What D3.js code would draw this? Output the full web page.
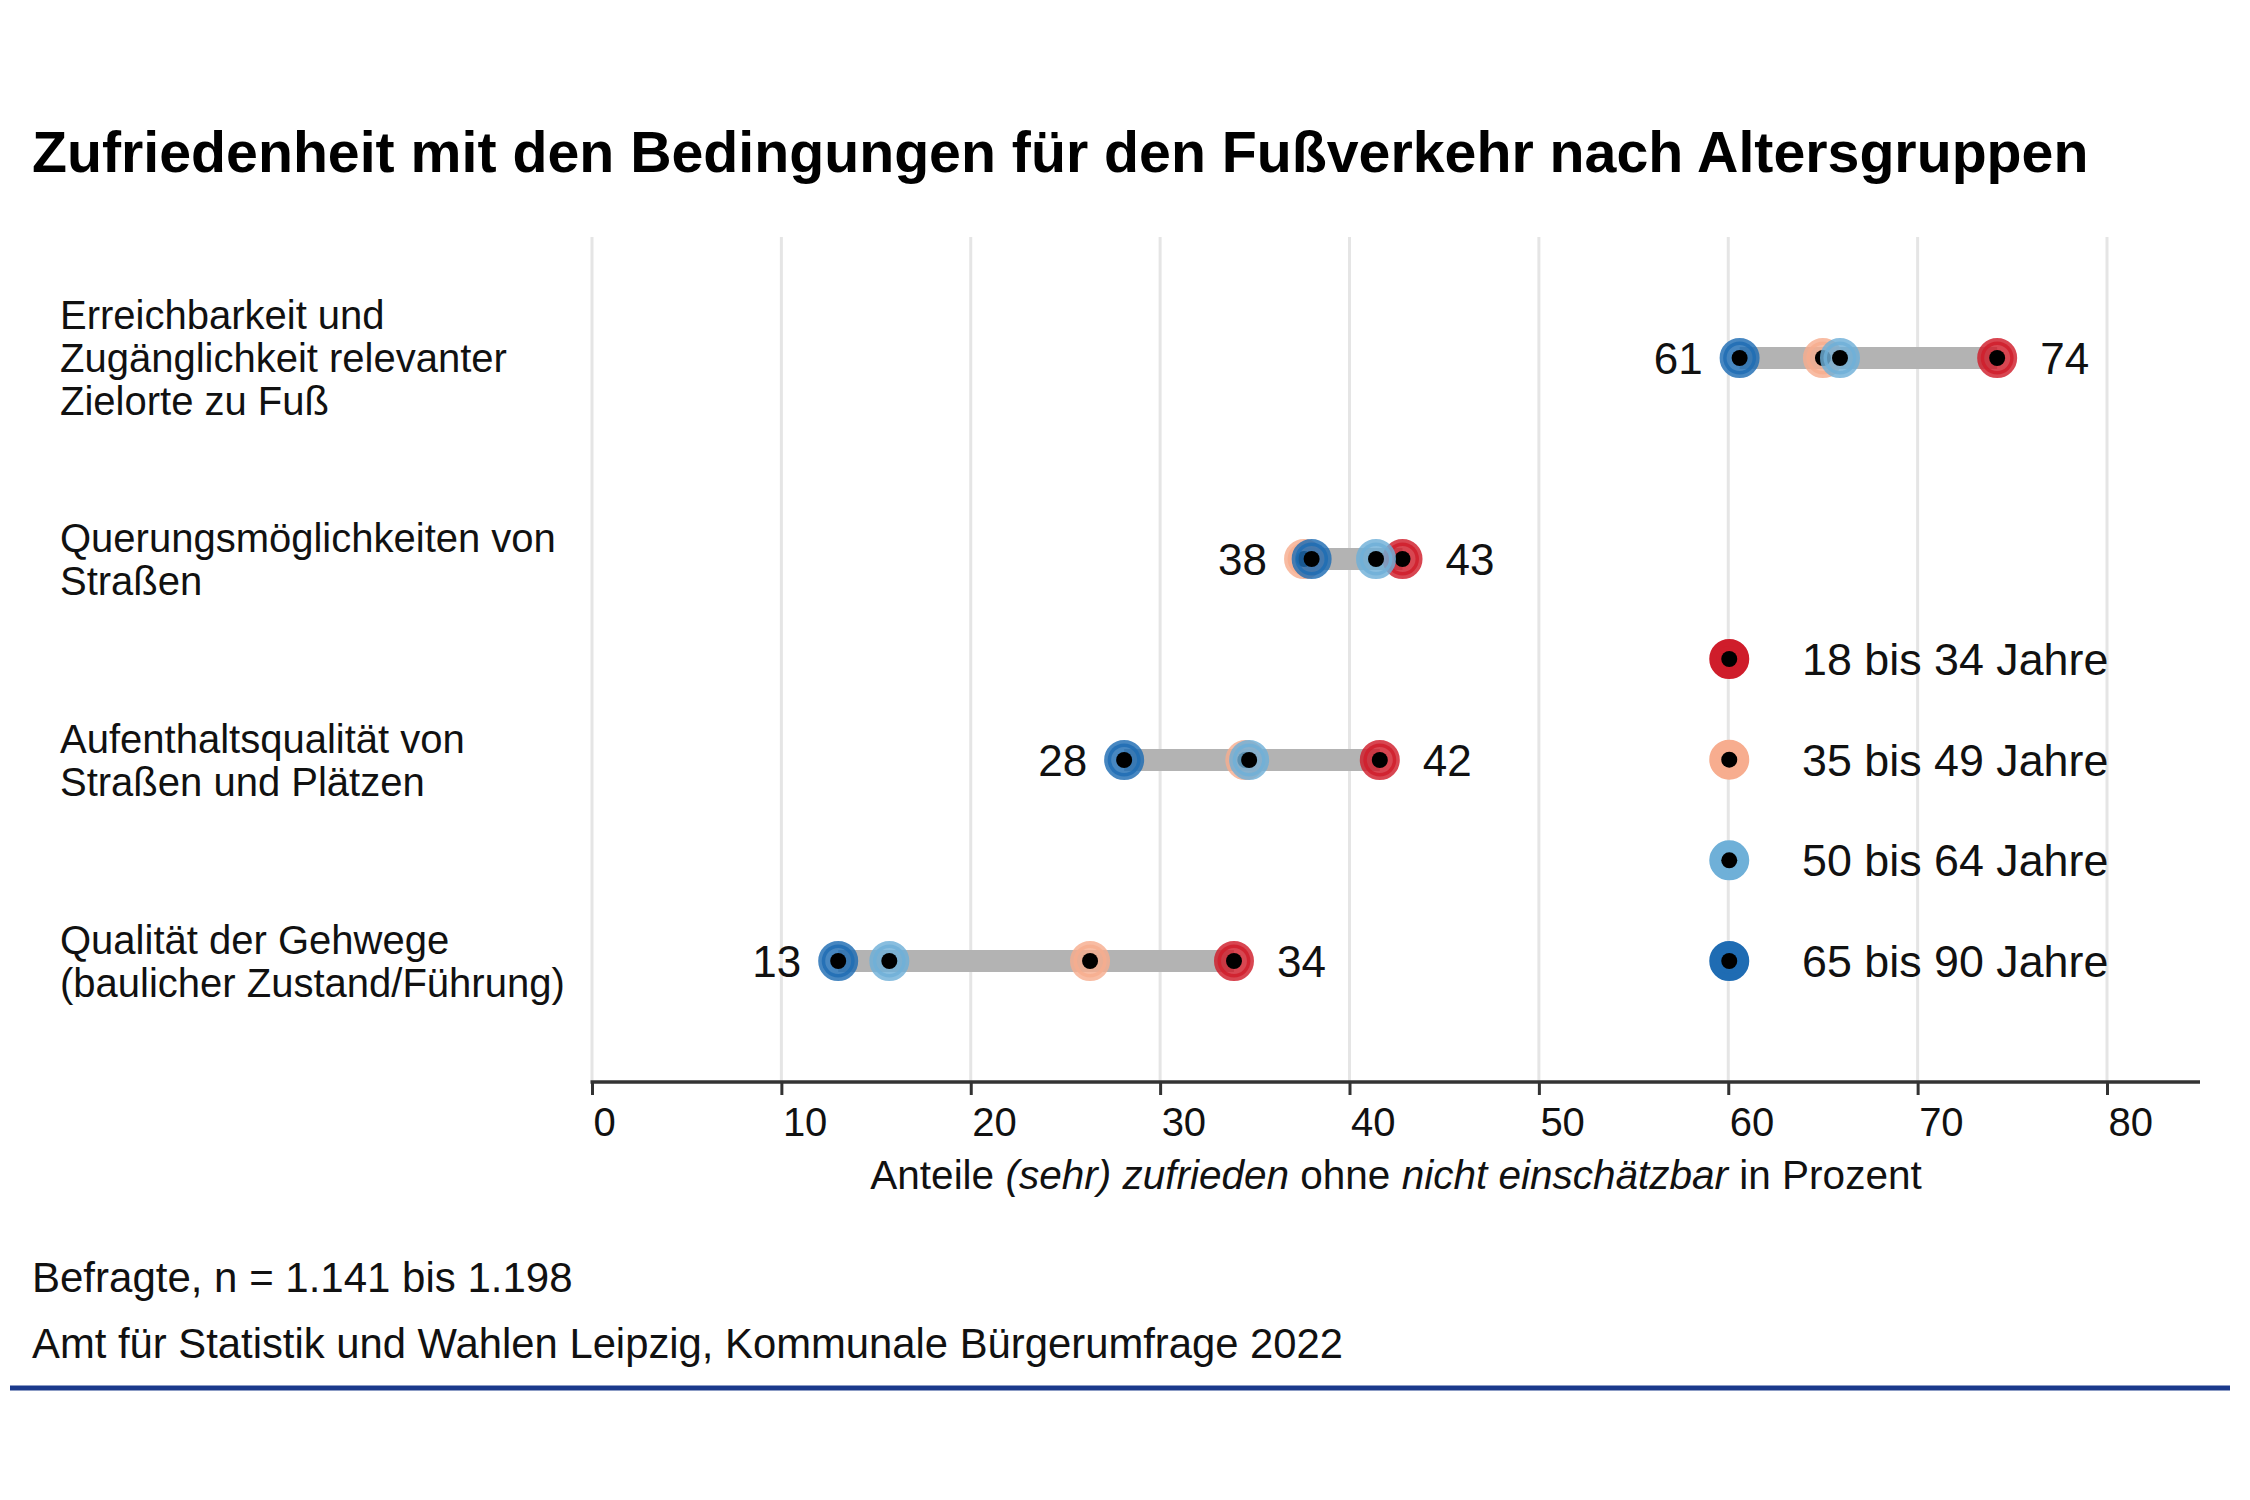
<!DOCTYPE html>
<html>
<head>
<meta charset="utf-8">
<script src="https://cdn.jsdelivr.net/npm/d3@7"></script>
<style>
  body { margin: 0; background: #fff; }
  svg { font-family: "Liberation Sans", Arial, sans-serif; }
</style>
</head>
<body>
<svg id="chart" width="2250" height="1500"></svg>
<script>
// categories, top to bottom
const categories = [
  ["Erreichbarkeit und", "Zugänglichkeit relevanter", "Zielorte zu Fuß"],
  ["Querungsmöglichkeiten von", "Straßen"],
  ["Aufenthaltsqualität von", "Straßen und Plätzen"],
  ["Qualität der Gehwege", "(baulicher Zustand/Führung)"]
]
const groups = ["18 bis 34 Jahre", "35 bis 49 Jahre", "50 bis 64 Jahre", "65 bis 90 Jahre"]
const groupColors = ["#cf1d2b", "#f7ad8f", "#6fb0d8", "#1f6cb3"]

// values per age group, same order as categories
const v18to34 = [74.2, 42.8, 41.6, 33.9]
const v35to49 = [65.0, 37.6, 34.5, 26.3]
const v50to64 = [65.9, 41.4, 34.7, 15.7]
const v65to90 = [60.6, 38.0, 28.1, 13.0]
const series = [v18to34, v35to49, v50to64, v65to90]

const xTicks = [0, 10, 20, 30, 40, 50, 60, 70, 80]

const title = "Zufriedenheit mit den Bedingungen für den Fußverkehr nach Altersgruppen"
const footer1 = "Befragte, n = 1.141 bis 1.198"
const footer2 = "Amt für Statistik und Wahlen Leipzig, Kommunale Bürgerumfrage 2022"

let svg = d3.select("#chart")
svg.append("rect").attr("width", 2250).attr("height", 1500).attr("fill", "#fff")

let dims = { left: 592, right: 2107, axisEnd: 2200, top: 237, axisY: 1082 }

let xScale = d3.scaleLinear().domain([0, 80]).range([dims.left, dims.right])
let rowIdx = categories.map((c, i) => i)
let yScale = d3.scalePoint().domain(rowIdx).range([358, 961])
let legendY = d3.scalePoint().domain(groups).range([659, 961])

// title, shrink to width
let titleText = svg.append("text")
  .attr("x", 32).attr("y", 172)
  .style("font-weight", "bold").style("font-size", "56px")
  .attr("fill", "#000")
  .text(title)
let tw = titleText.node().getComputedTextLength()
titleText.style("font-size", (56 * 2057 / tw) + "px")

// gridlines
svg.append("g").selectAll("line")
  .data(xTicks).enter().append("line")
  .attr("x1", d => xScale(d)).attr("x2", d => xScale(d))
  .attr("y1", dims.top).attr("y2", dims.axisY)
  .attr("stroke", "#e5e5e5").attr("stroke-width", 3)

// x axis
let xAxisgen = d3.axisBottom(xScale).tickValues(xTicks).tickSize(13).tickSizeOuter(0)
let xAxis = svg.append("g")
  .attr("transform", `translate(0,${dims.axisY})`)
  .call(xAxisgen)
xAxis.select(".domain").remove()
xAxis.append("line")
  .attr("x1", dims.left - 1.5).attr("x2", dims.axisEnd)
  .attr("stroke", "#333").attr("stroke-width", 3.5)
xAxis.selectAll(".tick line").attr("stroke", "#333").attr("stroke-width", 3)
xAxis.selectAll(".tick text")
  .attr("y", 54).attr("dy", 0).attr("x", 1)
  .style("text-anchor", "start")
  .style("font-size", "40px")
  .attr("fill", "#111")
  .style("font-family", "'Liberation Sans', Arial, sans-serif")

let axisTitle = svg.append("text")
  .attr("x", (dims.left + dims.axisEnd) / 2).attr("y", 1189)
  .style("text-anchor", "middle").style("font-size", "40.5px").attr("fill", "#111")
axisTitle.append("tspan").text("Anteile ")
axisTitle.append("tspan").style("font-style", "italic").text("(sehr) zufrieden")
axisTitle.append("tspan").text(" ohne ")
axisTitle.append("tspan").style("font-style", "italic").text("nicht einschätzbar")
axisTitle.append("tspan").text(" in Prozent")

// category labels
let catLabels = svg.append("g").selectAll("text")
  .data(categories).enter().append("text")
  .attr("x", 60)
  .style("font-size", "40px").attr("fill", "#111")
catLabels.each(function (lines, i) {
  let lh = 43
  let y0 = yScale(i) + 14 - (lines.length - 1) * lh / 2
  d3.select(this).selectAll("tspan")
    .data(lines).enter().append("tspan")
    .attr("x", 60).attr("y", (d, j) => y0 + j * lh)
    .text(d => d)
})

// range bars
let rows = rowIdx.map(i => {
  let vals = series.map(s => s[i])
  return { i: i, min: d3.min(vals), max: d3.max(vals) }
})
svg.append("g").selectAll("line")
  .data(rows).enter().append("line")
  .attr("x1", d => xScale(d.min)).attr("x2", d => xScale(d.max))
  .attr("y1", d => yScale(d.i)).attr("y2", d => yScale(d.i))
  .attr("stroke", "#b3b3b3").attr("stroke-width", 22)

// dots, drawn group by group
let drawDot = (g, cx, cy, color, op) => {
  g.append("circle")
    .attr("cx", cx).attr("cy", cy).attr("r", 16.5)
    .attr("fill", color).attr("fill-opacity", op)
    .attr("stroke", color).attr("stroke-opacity", op).attr("stroke-width", 7)
  g.append("circle")
    .attr("cx", cx).attr("cy", cy).attr("r", 8)
    .attr("fill", "#000")
}
let dotLayer = svg.append("g")
series.forEach((s, gi) => {
  s.forEach((v, i) => {
    drawDot(dotLayer, xScale(v), yScale(i), groupColors[gi], 0.82)
  })
})

// min / max labels
let valueLabels = svg.append("g").style("font-size", "44px").attr("fill", "#111")
valueLabels.selectAll(".minlab")
  .data(rows).enter().append("text")
  .attr("class", "minlab")
  .attr("x", d => xScale(d.min) - 37).attr("y", d => yScale(d.i) + 16)
  .style("text-anchor", "end")
  .text(d => Math.round(d.min))
valueLabels.selectAll(".maxlab")
  .data(rows).enter().append("text")
  .attr("class", "maxlab")
  .attr("x", d => xScale(d.max) + 43).attr("y", d => yScale(d.i) + 16)
  .style("text-anchor", "start")
  .text(d => Math.round(d.max))

// legend
let legend = svg.append("g")
groups.forEach((g, gi) => {
  drawDot(legend, xScale(60) + 1, legendY(g), groupColors[gi], 1)
  legend.append("text")
    .attr("x", 1802).attr("y", legendY(g) + 16)
    .style("font-size", "44.8px").attr("fill", "#111")
    .text(g)
})

// footer
svg.append("text").attr("x", 32).attr("y", 1292)
  .style("font-size", "42px").attr("fill", "#111").text(footer1)
svg.append("text").attr("x", 32).attr("y", 1358)
  .style("font-size", "41.8px").attr("fill", "#111").text(footer2)
svg.append("line")
  .attr("x1", 10).attr("x2", 2230).attr("y1", 1388).attr("y2", 1388)
  .attr("stroke", "#1b3a8c").attr("stroke-width", 5)
</script>
</body>
</html>
